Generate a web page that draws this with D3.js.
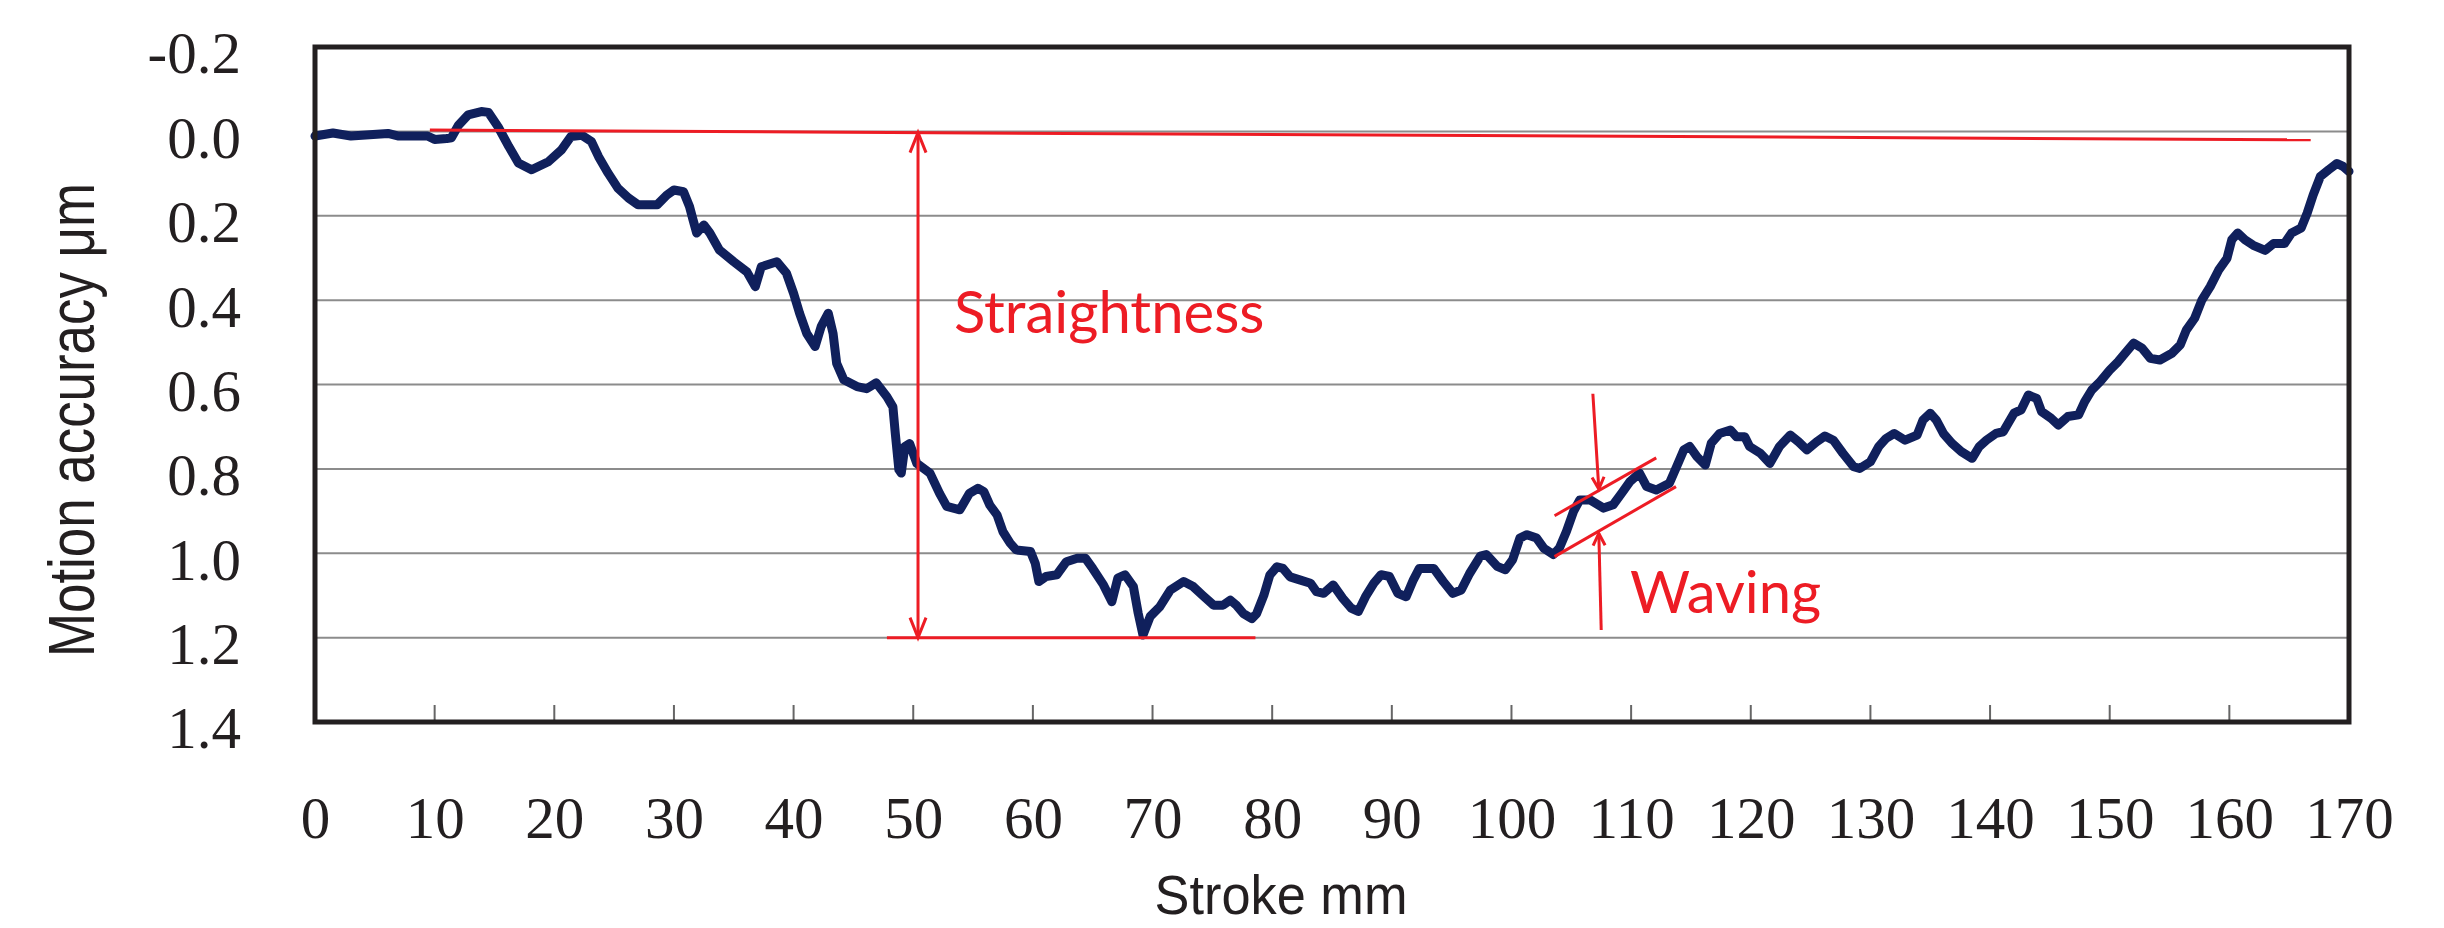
<!DOCTYPE html>
<html>
<head>
<meta charset="utf-8">
<script src="https://cdn.jsdelivr.net/npm/d3@7"></script>
<style>
  body { margin: 0; background: #fff; }
  svg { display: block; }
</style>
</head>
<body>
<svg id="chart"></svg>
<script>
const strokeMm = [
  0, 1.5, 3, 6.1, 7, 9.4, 10.0, 11.0, 11.4, 12.0, 12.8, 13.9, 14.5, 15.3, 16.2, 17.0,
  18.1, 19.5, 20.6, 21.4, 22.3, 23.1, 23.7, 24.5, 25.3, 26.2, 27.0, 28.6, 29.4, 30.0,
  30.8, 31.3, 31.6, 31.9, 32.5, 33.0, 33.8, 35.0, 36.1, 36.8, 37.3, 38.6, 39.4, 40.0,
  40.5, 41.1, 41.8, 42.3, 42.9, 43.3, 43.6, 44.2, 45.3, 46.1, 46.9, 47.8, 48.3, 48.5,
  48.8, 49.0, 49.3, 49.7, 50.3, 51.4, 52.2, 52.8, 53.9, 54.7, 55.4, 55.9, 56.4, 57.0,
  57.5, 58.1, 58.6, 59.8, 60.2, 60.5, 61.1, 62.0, 62.8, 63.7, 64.4, 65.0, 65.9, 66.6,
  67.1, 67.7, 68.4, 68.8, 69.2, 69.8, 70.6, 71.5, 72.6, 73.4, 74.2, 75.1, 75.9, 76.5,
  77.0, 77.6, 78.3, 78.7, 79.3, 79.8, 80.4, 80.9, 81.5, 82.3, 83.2, 83.7, 84.3, 85.1,
  85.9, 86.6, 87.2, 87.8, 88.5, 89.1, 89.8, 90.5, 91.2, 91.8, 92.3, 93.5, 94.3, 95.1,
  95.8, 96.5, 97.4, 97.9, 98.8, 99.5, 100.1, 100.7, 101.3, 102.1, 102.7, 103.5, 104.0,
  104.6, 105.2, 105.7, 106.6, 107.7, 108.5, 109.2, 109.9, 110.7, 111.3, 112.1, 113.2,
  113.8, 114.4, 114.9, 115.5, 116.2, 116.7, 117.4, 118.3, 118.8, 119.5, 119.9, 120.8,
  121.6, 122.4, 123.3, 124.0, 124.7, 125.5, 126.2, 126.9, 127.7, 128.6, 129.1, 130.0,
  130.7, 131.3, 132.0, 132.9, 133.9, 134.4, 135.0, 135.5, 136.1, 136.8, 137.6, 138.5,
  139.1, 139.7, 140.5, 141.1, 142.0, 142.6, 143.2, 143.9, 144.3, 145.1, 145.7, 146.5,
  147.4, 147.9, 148.5, 149.2, 150.0, 150.7, 151.4, 152.0, 152.7, 153.4, 154.2, 155.2,
  155.9, 156.4, 157.1, 157.7, 158.4, 159.1, 159.8, 160.2, 160.7, 161.3, 162.0, 163.0,
  163.7, 164.6, 165.2, 166.0, 166.5, 167.0, 167.6, 168.3, 169.0, 169.5, 170.0
];
const accuracyUm = [
  0.011, 0.004, 0.011, 0.005, 0.011, 0.011, 0.019, 0.017, 0.015, -0.015, -0.039, -0.047, -0.045, -0.011, 0.036, 0.075,
  0.091, 0.072, 0.044, 0.012, 0.009, 0.024, 0.060, 0.099, 0.134, 0.158, 0.174, 0.174, 0.151, 0.139,
  0.143, 0.178, 0.210, 0.241, 0.222, 0.241, 0.281, 0.309, 0.333, 0.368, 0.321, 0.309, 0.336, 0.384,
  0.431, 0.479, 0.510, 0.463, 0.431, 0.479, 0.550, 0.589, 0.605, 0.610, 0.596, 0.629, 0.653, 0.716,
  0.802, 0.810, 0.747, 0.740, 0.787, 0.810, 0.858, 0.889, 0.897, 0.858, 0.846, 0.854, 0.886, 0.909,
  0.949, 0.976, 0.992, 0.996, 1.024, 1.067, 1.055, 1.051, 1.020, 1.012, 1.012, 1.036, 1.075, 1.115,
  1.059, 1.051, 1.079, 1.142, 1.194, 1.150, 1.127, 1.087, 1.067, 1.079, 1.100, 1.123, 1.123, 1.111,
  1.123, 1.143, 1.155, 1.143, 1.100, 1.052, 1.032, 1.036, 1.056, 1.063, 1.071, 1.091, 1.095, 1.075,
  1.107, 1.130, 1.138, 1.103, 1.071, 1.051, 1.055, 1.095, 1.103, 1.063, 1.036, 1.036, 1.067, 1.095,
  1.087, 1.048, 1.007, 1.003, 1.031, 1.039, 1.015, 0.964, 0.956, 0.964, 0.988, 1.003, 0.988,
  0.948, 0.900, 0.874, 0.874, 0.893, 0.885, 0.858, 0.830, 0.810, 0.842, 0.850, 0.834,
  0.795, 0.755, 0.747, 0.771, 0.791, 0.739, 0.716, 0.708, 0.724, 0.724, 0.747, 0.763,
  0.787, 0.747, 0.720, 0.736, 0.755, 0.736, 0.722, 0.732, 0.763, 0.795, 0.799, 0.783,
  0.747, 0.728, 0.716, 0.732, 0.720, 0.684, 0.668, 0.684, 0.716, 0.739, 0.759, 0.775,
  0.747, 0.732, 0.716, 0.712, 0.668, 0.660, 0.625, 0.633, 0.664, 0.680, 0.696, 0.676,
  0.672, 0.641, 0.613, 0.593, 0.566, 0.546, 0.522, 0.502, 0.514, 0.538, 0.542, 0.526,
  0.506, 0.471, 0.443, 0.400, 0.368, 0.329, 0.301, 0.257, 0.241, 0.257, 0.270, 0.282,
  0.266, 0.266, 0.241, 0.229, 0.194, 0.151, 0.107, 0.091, 0.076, 0.083, 0.095
];

const xTicks = [0, 10, 20, 30, 40, 50, 60, 70, 80, 90, 100, 110, 120, 130, 140, 150, 160, 170];
const yTicks = [-0.2, 0, 0.2, 0.4, 0.6, 0.8, 1.0, 1.2, 1.4];

// red annotation lines, in data units [mm, um]
const referenceLine = [[9.6, -0.003], [166.8, 0.02]];
const straightnessArrow = [[50.4, 0.003], [50.4, 1.2]];
const bottomLine = [[47.8, 1.2], [78.6, 1.2]];
const waveUpper = [[103.6, 0.911], [112.1, 0.774]];
const waveLower = [[103.6, 1.008], [113.75, 0.842]];
const waveArrowDown = [[106.8, 0.622], [107.3, 0.848]];
const waveArrowUp = [[107.5, 1.182], [107.3, 0.953]];
const labels = [
  { text: 'Straightness', at: [53.4, 0.478] },
  { text: 'Waving', at: [109.9, 1.141] },
];

const margin = { top: 47, right: 95, bottom: 206, left: 315 };
const width = 2444 - margin.left - margin.right;
const height = 928 - margin.top - margin.bottom;
const ink = '#231f20';
const red = '#ed1c24';

const root = d3.select('#chart').
  attr('width', 2444).
  attr('height', 928);

root.append('rect').
  attr('width', 2444).
  attr('height', 928).
  attr('fill', '#fff');

const svg = root.append('g').
  attr('transform', `translate(${margin.left},${margin.top})`);

const x = d3.scaleLinear().domain([0, 170]).range([0, width]);
const y = d3.scaleLinear().domain([-0.2, 1.4]).range([0, height]);

// horizontal grid
svg.selectAll('.grid').
  data(yTicks.slice(1, -1)).
  enter().
  append('line').
  attr('x1', 0).
  attr('x2', width).
  attr('y1', d => y(d)).
  attr('y2', d => y(d)).
  attr('stroke', '#8c8c8c').
  attr('stroke-width', 2);

// inner tick marks on the bottom edge
svg.selectAll('.xtick').
  data(xTicks.slice(1, -1)).
  enter().
  append('line').
  attr('x1', d => x(d)).
  attr('x2', d => x(d)).
  attr('y1', height).
  attr('y2', height - 17).
  attr('stroke', '#666').
  attr('stroke-width', 2);

const line = d3.line().
  x(d => x(d[0])).
  y(d => y(d[1]));

svg.append('path').
  datum(d3.zip(strokeMm, accuracyUm)).
  attr('d', line).
  attr('fill', 'none').
  attr('stroke', '#10205c').
  attr('stroke-width', 9).
  attr('stroke-linejoin', 'round').
  attr('stroke-linecap', 'round');

// annotations
[referenceLine, straightnessArrow, bottomLine, waveUpper, waveLower, waveArrowDown, waveArrowUp].forEach(seg => {
  svg.append('path').
    attr('d', line(seg)).
    attr('fill', 'none').
    attr('stroke', red).
    attr('stroke-width', 3);
});

function arrowHead(tail, tip, len, half) {
  const x0 = x(tail[0]), y0 = y(tail[1]), x1 = x(tip[0]), y1 = y(tip[1]);
  const d = Math.hypot(x1 - x0, y1 - y0);
  const ux = (x1 - x0) / d, uy = (y1 - y0) / d;
  const bx = x1 - ux * len, by = y1 - uy * len;
  svg.append('path').
    attr('d', `M${bx - uy * half},${by + ux * half}L${x1},${y1}L${bx + uy * half},${by - ux * half}`).
    attr('fill', 'none').
    attr('stroke', red).
    attr('stroke-width', 3);
}
arrowHead(straightnessArrow[1], straightnessArrow[0], 20, 8);
arrowHead(straightnessArrow[0], straightnessArrow[1], 20, 8);
arrowHead(waveArrowDown[0], waveArrowDown[1], 12, 6);
arrowHead(waveArrowUp[0], waveArrowUp[1], 12, 6);

svg.selectAll('.note').
  data(labels).
  enter().
  append('text').
  attr('x', d => x(d.at[0])).
  attr('y', d => y(d.at[1])).
  text(d => d.text).
  style('fill', red).
  style('font-family', 'Lato, "Open Sans", sans-serif').
  style('font-size', '58px');

// frame
svg.append('rect').
  attr('width', width).
  attr('height', height).
  attr('fill', 'none').
  attr('stroke', ink).
  attr('stroke-width', 5);

// axes
const yAxis = svg.append('g').
  call(d3.axisLeft(y).tickValues(yTicks).tickSize(0).tickPadding(74).tickFormat(d => d.toFixed(1)));
const xAxis = svg.append('g').
  attr('transform', `translate(0,${height})`).
  call(d3.axisBottom(x).tickValues(xTicks).tickSize(0).tickPadding(74).tickFormat(d => d));

[yAxis, xAxis].forEach(g => {
  g.select('.domain').remove();
  g.selectAll('text').
    style('font-family', '"Liberation Serif", "Times New Roman", serif').
    style('font-size', '59px').
    style('fill', ink);
});
yAxis.selectAll('text').attr('dy', '0.44em');

root.append('text').
  attr('transform', 'translate(94,420) rotate(-90)').
  attr('text-anchor', 'middle').
  attr('textLength', 474).
  attr('lengthAdjust', 'spacingAndGlyphs').
  style('font-family', '"Liberation Sans", Arial, sans-serif').
  style('font-size', '64px').
  style('fill', ink).
  text('Motion accuracy μm');

root.append('text').
  attr('x', 1281).
  attr('y', 914).
  attr('text-anchor', 'middle').
  attr('textLength', 253).
  attr('lengthAdjust', 'spacingAndGlyphs').
  style('font-family', '"Liberation Sans", Arial, sans-serif').
  style('font-size', '55px').
  style('fill', ink).
  text('Stroke mm');
</script>
</body>
</html>
